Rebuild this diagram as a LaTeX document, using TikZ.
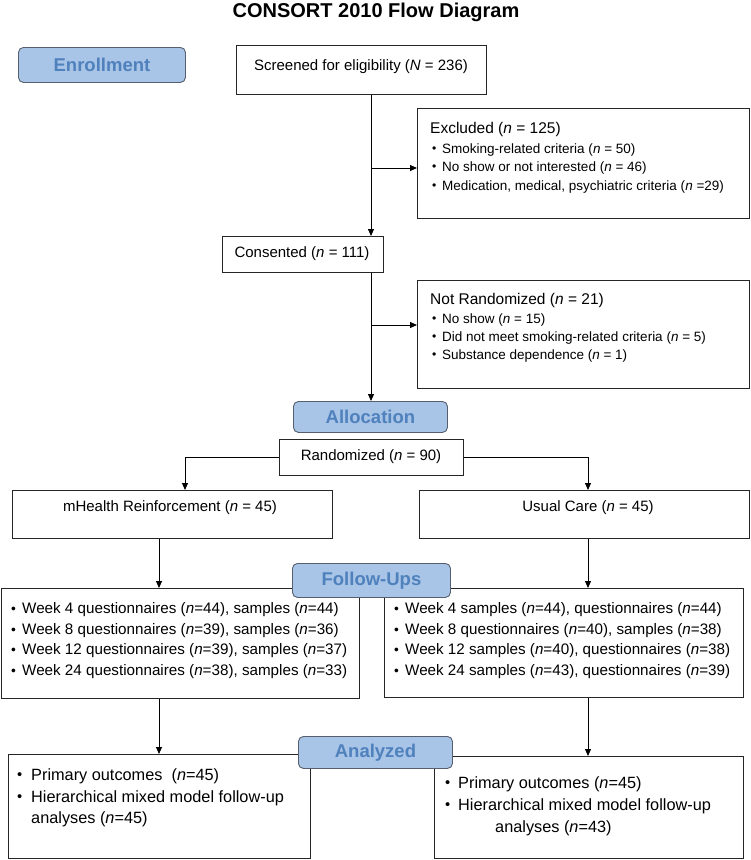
\documentclass[tikz,border=0pt]{standalone}
\usepackage{fontspec}
\usepackage{graphicx}
\setmainfont{Liberation Sans}
\usetikzlibrary{arrows.meta}
\definecolor{lblfill}{RGB}{168,196,230}
\definecolor{lbltext}{RGB}{79,129,189}
\definecolor{lbldraw}{RGB}{85,95,110}
\newcommand{\bul}[1]{\makebox[#1][l]{\raisebox{0.04em}{\scalebox{0.9}{\textbullet}}}}
\begin{document}
\begin{tikzpicture}[x=1pt,y=-1pt,
  box/.style={draw=black!85, line width=0.8pt, fill=white, anchor=north west, inner sep=0},
  stage/.style={draw=lbldraw, line width=0.9pt, fill=lblfill, rounded corners=5pt, text=lbltext, font=\fontsize{18.5}{20}\selectfont\bfseries, inner sep=0, anchor=north west},
  txt/.style={font=\fontsize{15}{17}\selectfont, inner sep=0},
  hd/.style={font=\fontsize{15.5}{17}\selectfont, inner sep=0, anchor=west},
  fut/.style={font=\fontsize{15.2}{17}\selectfont, inner sep=0, anchor=west},
  ant/.style={font=\fontsize{16.3}{18}\selectfont, inner sep=0, anchor=west},
  sml/.style={font=\fontsize{13.5}{15}\selectfont, inner sep=0, anchor=west},
  arr/.style={-{Triangle[length=7pt,width=6pt]}, line width=0.8pt}
]
\useasboundingbox (0,0) rectangle (751,860);

\node[font=\fontsize{20}{22}\selectfont\bfseries, inner sep=0] (title) at (376,12) {CONSORT 2010 Flow Diagram};

% boxes
\node[box, minimum width=250, minimum height=49] (screen) at (236,45) {};
\node[box, minimum width=332, minimum height=110] (excl) at (417,108) {};
\node[box, minimum width=161, minimum height=36] (consent) at (222,236) {};
\node[box, minimum width=332, minimum height=108] (notrand) at (417,280) {};
\node[box, minimum width=184, minimum height=36] (rand) at (279,439) {};
\node[box, minimum width=320, minimum height=48] (mh) at (12,490) {};
\node[box, minimum width=330, minimum height=48] (uc) at (419,490) {};
\node[box, minimum width=358, minimum height=110] (fuL) at (1,588) {};
\node[box, minimum width=359, minimum height=109] (fuR) at (384,588) {};
\node[box, minimum width=302, minimum height=104] (anL) at (8,754) {};
\node[box, minimum width=309, minimum height=102] (anR) at (434,756) {};

% texts
\node[txt] (screenT) at (361,67) {Screened for eligibility (\textit{N} = 236)};
\node[hd] (exclH) at (430,129) {Excluded (\textit{n} = 125)};
\node[sml] (excl1) at (432,150) {\bul{10pt}Smoking-related criteria (\textit{n} = 50)};
\node[sml] (excl2) at (432,168) {\bul{10pt}No show or not interested (\textit{n} = 46)};
\node[sml] (excl3) at (432,187) {\bul{10pt}Medication, medical, psychiatric criteria (\textit{n} =29)};
\node[txt] (consentT) at (302,254) {Consented (\textit{n} = 111)};
\node[hd] (nrH) at (430,300) {Not Randomized (\textit{n} = 21)};
\node[sml] (nr1) at (432,320) {\bul{10pt}No show (\textit{n} = 15)};
\node[sml] (nr2) at (432,338) {\bul{10pt}Did not meet smoking-related criteria (\textit{n} = 5)};
\node[sml] (nr3) at (432,356) {\bul{10pt}Substance dependence (\textit{n} = 1)};
\node[txt] (randT) at (371,457) {Randomized (\textit{n} = 90)};
\node[txt] (mhT) at (170,508) {mHealth Reinforcement (\textit{n} = 45)};
\node[txt] (ucT) at (588,508) {Usual Care (\textit{n} = 45)};

\node[fut] (fuL1) at (11,610) {\bul{11pt}Week 4 questionnaires (\textit{n}=44), samples (\textit{n}=44)};
\node[fut] (fuL2) at (11,631) {\bul{11pt}Week 8 questionnaires (\textit{n}=39), samples (\textit{n}=36)};
\node[fut] (fuL3) at (11,651) {\bul{11pt}Week 12 questionnaires (\textit{n}=39), samples (\textit{n}=37)};
\node[fut] (fuL4) at (11,672) {\bul{11pt}Week 24 questionnaires (\textit{n}=38), samples (\textit{n}=33)};
\node[fut] (fuR1) at (394,610) {\bul{11pt}Week 4 samples (\textit{n}=44), questionnaires (\textit{n}=44)};
\node[fut] (fuR2) at (394,631) {\bul{11pt}Week 8 questionnaires (\textit{n}=40), samples (\textit{n}=38)};
\node[fut] (fuR3) at (394,651) {\bul{11pt}Week 12 samples (\textit{n}=40), questionnaires (\textit{n}=38)};
\node[fut] (fuR4) at (394,672) {\bul{11pt}Week 24 samples (\textit{n}=43), questionnaires (\textit{n}=39)};

\node[ant] (anL1) at (17,776) {\bul{14pt}Primary outcomes\ \ (\textit{n}=45)};
\node[ant] (anL2) at (17,798) {\bul{14pt}Hierarchical mixed model follow-up};
\node[ant] (anL3) at (31,819) {analyses (\textit{n}=45)};
\node[ant] (anR1) at (445,784) {\bul{13pt}Primary outcomes (\textit{n}=45)};
\node[ant] (anR2) at (445,806) {\bul{13pt}Hierarchical mixed model follow-up};
\node[ant] (anR3) at (495,828) {analyses (\textit{n}=43)};

% connectors
\coordinate (vx) at (371,0);
\coordinate (lx) at (185,0);
\coordinate (rx) at (588,0);
\coordinate (fx) at (159,0);
\coordinate (exA) at (371,168);
\coordinate (nrA) at (371,325);
\draw[arr] (screen.south -| vx) -- (consent.north -| vx);
\draw[arr] (exA) -- (excl.west |- exA);
\draw[arr] (nrA) -- (notrand.west |- nrA);
\node[stage, minimum width=154, minimum height=31] (alloc) at (293,401) {Allocation};
\draw[arr] (consent.south -| vx) -- (alloc.north -| vx);
\draw[arr] (rand.west) -| (lx |- mh.north);
\draw[arr] (rand.east) -| (rx |- uc.north);
\draw[arr] (mh.south -| fx) -- (fuL.north -| fx);
\draw[arr] (uc.south -| rx) -- (fuR.north -| rx);
\draw[arr] (fuL.south -| fx) -- (anL.north -| fx);
\draw[arr] (fuR.south -| rx) -- (anR.north -| rx);

% stage labels
\node[stage, minimum width=167, minimum height=35] (enroll) at (18,47) {Enrollment};
\node[stage, minimum width=158, minimum height=34] (fu) at (292,563) {Follow-Ups};
\node[stage, minimum width=154, minimum height=32] (an) at (298,736) {Analyzed};
\end{tikzpicture}
\end{document}
